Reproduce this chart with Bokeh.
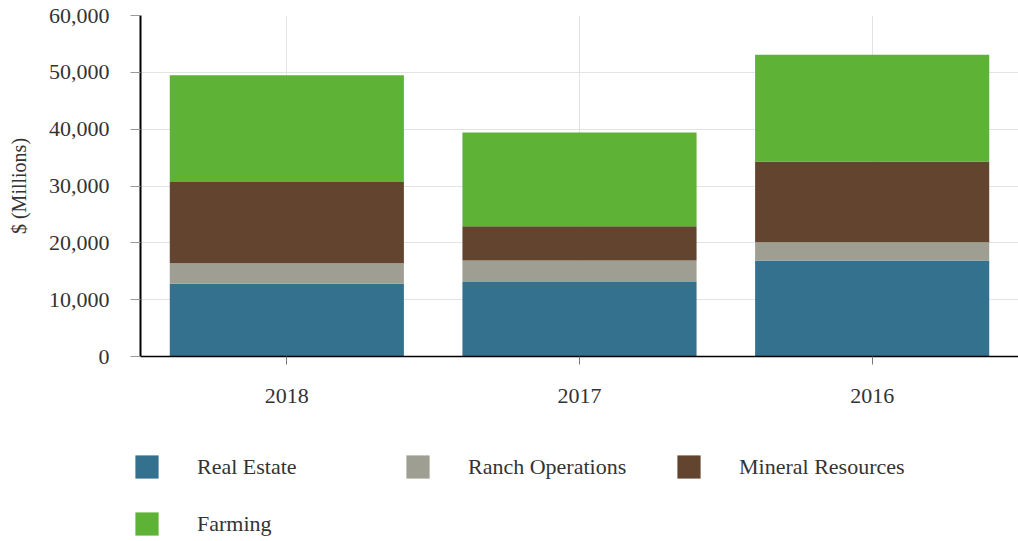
from bokeh.plotting import figure
from bokeh.layouts import column, row
from bokeh.models import (Range1d, FixedTicker, NumeralTickFormatter, Legend,
                          LegendItem, FactorRange, ColumnDataSource)
from bokeh.embed import file_html
from bokeh.resources import INLINE

years = ["2018", "2017", "2016"]
segments = ["Real Estate", "Ranch Operations", "Mineral Resources", "Farming"]
real_estate = [12800, 13100, 16900]
ranch_operations = [3600, 3800, 3200]
mineral_resources = [14300, 6000, 14200]
farming = [18800, 16500, 18800]
colors = ["#34718F", "#9E9E92", "#63452F", "#5EB236"]
y_ticks = [0, 10000, 20000, 30000, 40000, 50000, 60000]

data = {
    "year": years,
    "Real Estate": real_estate,
    "Ranch Operations": ranch_operations,
    "Mineral Resources": mineral_resources,
    "Farming": farming,
}

FONT = "Liberation Serif"
TEXT = "#333333"

# ---------------- main chart ----------------
p = figure(x_range=FactorRange(*years), y_range=Range1d(0, 60000),
           width=1018, height=420, output_backend="svg", toolbar_location=None,
           min_border_left=140, min_border_right=0, min_border_top=15,
           min_border_bottom=64, background_fill_color="white",
           border_fill_color="white")
p.outline_line_color = None

renderers = p.vbar_stack(segments, x="year", width=0.8, color=colors,
                         source=ColumnDataSource(data=data), line_color=None)

p.xgrid.grid_line_color = "#e3e3e3"
p.ygrid.grid_line_color = "#e3e3e3"

p.yaxis.ticker = FixedTicker(ticks=y_ticks)
p.yaxis.formatter = NumeralTickFormatter(format="0,0")
p.yaxis.axis_label = "$ (Millions)"
p.yaxis.axis_label_text_font = FONT
p.yaxis.axis_label_text_font_style = "normal"
p.yaxis.axis_label_text_font_size = "20px"
p.yaxis.axis_label_text_color = TEXT
p.yaxis.axis_label_standoff = 16
p.yaxis.major_label_text_font = FONT
p.yaxis.major_label_text_font_size = "22px"
p.yaxis.major_label_text_color = TEXT
p.yaxis.major_label_standoff = 21
p.yaxis.axis_line_color = "black"
p.yaxis.axis_line_width = 2
p.yaxis.major_tick_line_color = "#999999"
p.yaxis.major_tick_in = 0
p.yaxis.major_tick_out = 10
p.yaxis.minor_tick_line_color = None

p.xaxis.major_label_text_font = FONT
p.xaxis.major_label_text_font_size = "22px"
p.xaxis.major_label_text_color = TEXT
p.xaxis.major_label_standoff = 24
p.xaxis.axis_line_color = "black"
p.xaxis.axis_line_width = 1.5
p.xaxis.major_tick_line_color = "#777777"
p.xaxis.major_tick_in = 0
p.xaxis.major_tick_out = 8

# ---------------- legend strip ----------------
lg = figure(x_range=Range1d(0, 1), y_range=Range1d(0, 1),
            width=1018, height=121, output_backend="svg", toolbar_location=None,
            min_border_left=0, min_border_right=0, min_border_top=0,
            min_border_bottom=0, x_axis_location=None, y_axis_location=None,
            background_fill_color="white", border_fill_color="white")
lg.outline_line_color = None
lg.grid.visible = False
# legend-key glyphs: placed far outside the visible ranges, only their style is used
key_src = ColumnDataSource(data={"x": [-10.0], "top": [-10.0]})
keys = [lg.vbar(x="x", top="top", bottom=-11, width=0.1, color=c,
                line_color=None, source=key_src) for c in colors]

common = dict(orientation="horizontal", glyph_width=29, glyph_height=29,
              label_standoff=36, label_width=200, spacing=6, padding=0,
              margin=0, label_text_font=FONT, label_text_font_size="22px",
              label_text_color=TEXT, border_line_color=None,
              background_fill_alpha=0)

legend1 = Legend(items=[LegendItem(label=s, renderers=[r])
                        for s, r in zip(segments[:3], keys[:3])],
                 location=(132, 60), **common)
legend2 = Legend(items=[LegendItem(label=segments[3], renderers=[keys[3]])],
                 location=(132, 3), **common)
lg.add_layout(legend1, "center")
lg.add_layout(legend2, "center")

layout = column(p, row(lg), spacing=0)
open("out.html", "w").write(file_html(layout, INLINE))
